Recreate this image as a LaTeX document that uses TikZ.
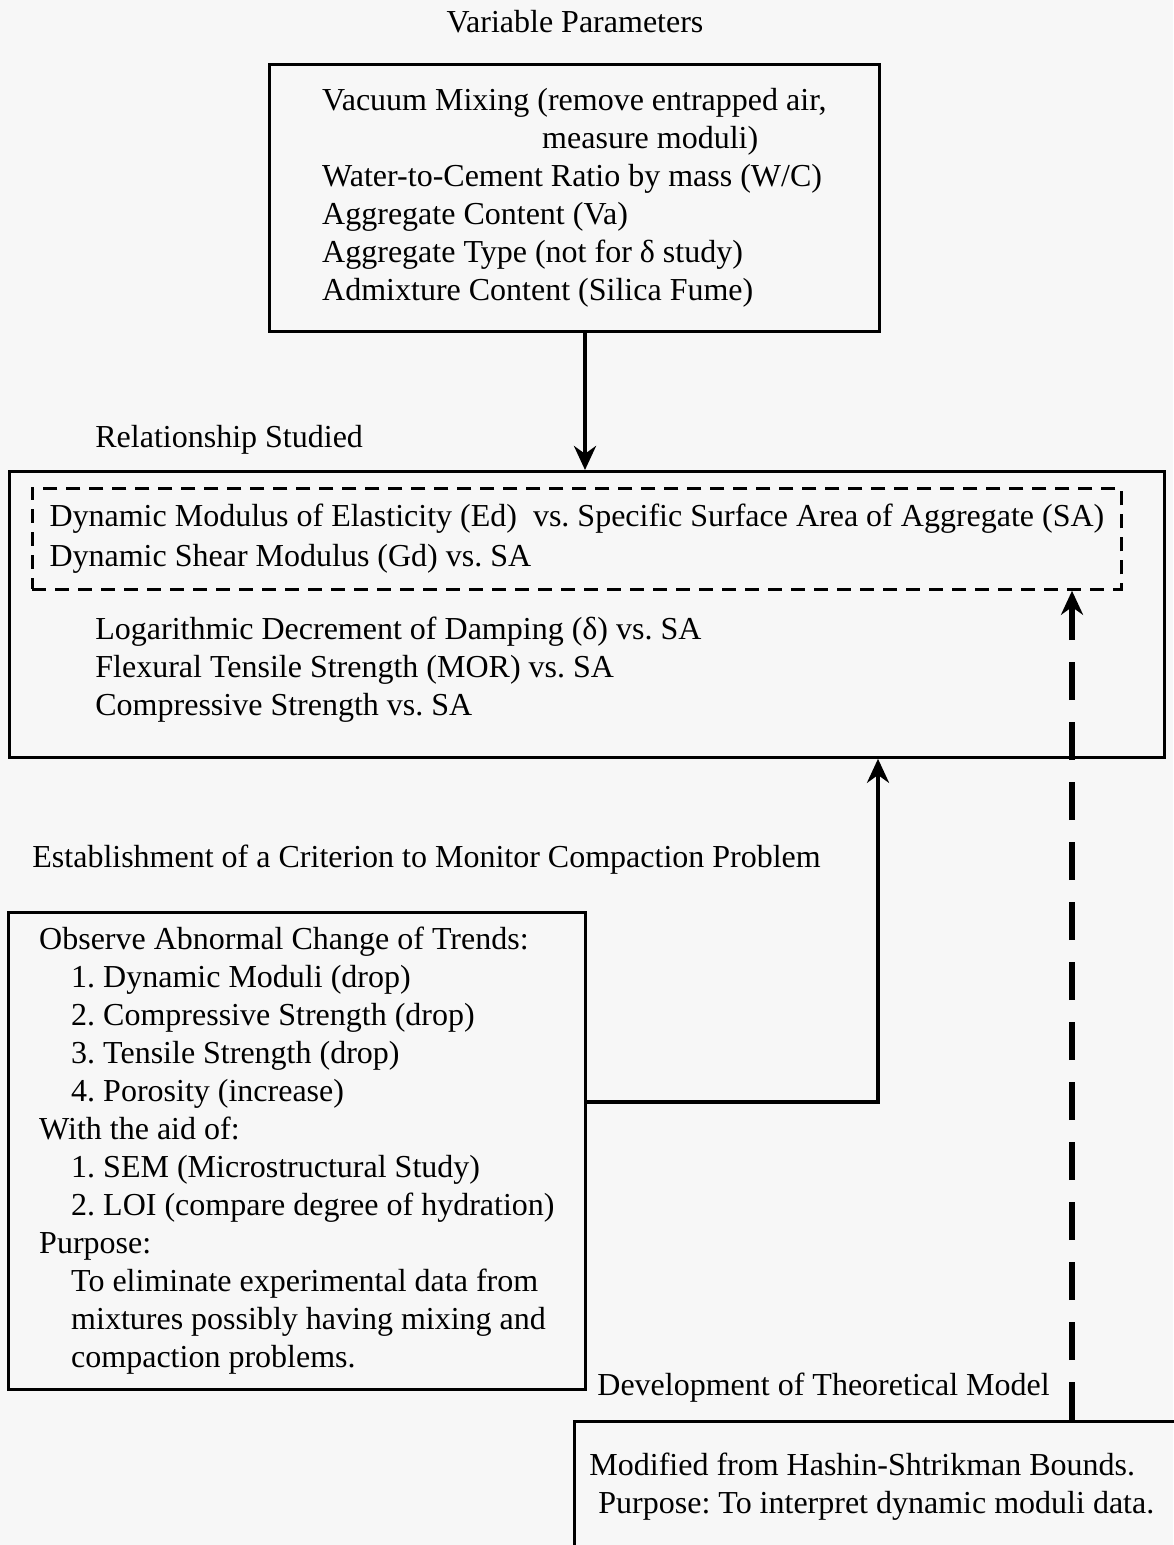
\documentclass[tikz,border=0pt]{standalone}
\usepackage{fontspec}
\setmainfont{Liberation Serif}
\frenchspacing
\usetikzlibrary{arrows.meta}
\tikzset{>={Stealth[length=12pt,width=11pt]},every node/.style={font=\fontsize{16}{19}\selectfont,inner sep=0pt},
box/.style={draw,line width=1.4pt,align=left},
flow/.style={line width=2.2pt,->},
dflow/.style={line width=2.6pt,->,dash pattern=on 19pt off 11pt},
title/.style={anchor=west}}

\begin{document}
\begin{tikzpicture}[x=0.5pt,y=-0.5pt]
\fill[black!3] (0,0) rectangle (1173,1545);
\useasboundingbox (0,0) rectangle (1173,1545);
% variable parameters
\node (vartitle) at (575,22) {Variable Parameters};
\node[box,anchor=north west,minimum width=305pt,minimum height=133.5pt] (varbox) at (268,63)
{Vacuum Mixing (remove entrapped air,\\\hspace*{110pt}measure moduli)\\Water-to-Cement Ratio by mass (W/C)\\Aggregate Content (Va)\\Aggregate Type (not for δ study)\\Admixture Content (Silica Fume)};
% relationship studied
\node[title] (reltitle) at (95,440) {Relationship Studied};
\node[box,anchor=north west,minimum width=577.5pt,minimum height=143pt] (relbox) at (8,470) {};
\node[box,dash pattern=on 7pt off 4.5pt,anchor=north west,minimum width=544.5pt,minimum height=50.5pt,font=\fontsize{16}{20}\selectfont] (sabox) at (31,487)
{Dynamic Modulus of Elasticity (Ed) \ vs. Specific Surface Area of Aggregate (SA)\\Dynamic Shear Modulus (Gd) vs. SA};
\node[anchor=west,align=left] (otherlist) at (95,670)
{Logarithmic Decrement of Damping (δ) vs. SA\\Flexural Tensile Strength (MOR) vs. SA\\Compressive Strength vs. SA};
% criterion
\node[title] (crittitle) at (32,860) {Establishment of a Criterion to Monitor Compaction Problem};
\node[box,anchor=north west,minimum width=288.5pt,minimum height=238.5pt] (critbox) at (7,911)
{Observe Abnormal Change of Trends:\\\hspace*{16pt}1. Dynamic Moduli (drop)\\\hspace*{16pt}2. Compressive Strength (drop)\\\hspace*{16pt}3. Tensile Strength (drop)\\\hspace*{16pt}4. Porosity (increase)\\With the aid of:\\\hspace*{16pt}1. SEM (Microstructural Study)\\\hspace*{16pt}2. LOI (compare degree of hydration)\\Purpose:\\\hspace*{16pt}To eliminate experimental data from\\\hspace*{16pt}mixtures possibly having mixing and\\\hspace*{16pt}compaction problems.};
% theoretical model
\node[title] (modeltitle) at (597,1388) {Development of Theoretical Model};
\node[box,anchor=north west,minimum height=65pt,inner xsep=7.5pt] (modelbox) at (573,1420)
{Modified from Hashin-Shtrikman Bounds.\\\hspace*{4.5pt}Purpose: To interpret dynamic moduli data.\hspace*{10pt}};
% connectors
\coordinate (downx) at (585,0);
\coordinate (turn) at (878,1102);
\coordinate (dashx) at (1072,0);
\draw[flow] (varbox.south -| downx) -- (relbox.north -| downx);
\draw[flow] (critbox.east |- turn) -- (turn) -- (turn |- relbox.south);
\draw[dflow] (modelbox.north -| dashx) -- (sabox.south -| dashx);
\end{tikzpicture}
\end{document}
